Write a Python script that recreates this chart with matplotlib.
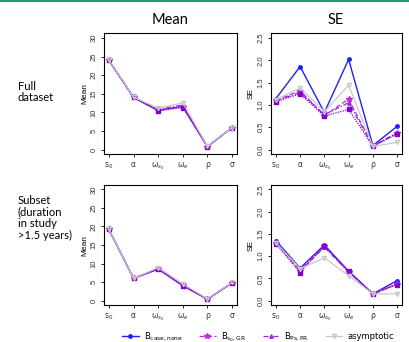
import matplotlib
matplotlib.use("Agg")
import matplotlib.pyplot as plt
from matplotlib.lines import Line2D

# parameters on the x axis
params = ["s$_0$", "α", "ω$_{s_0}$", "ω$_e$", "ρ", "σ"]

# full dataset - mean
full_mean_case = [24.0, 14.0, 10.5, 11.6, 0.8, 5.9]
full_mean_s0gr = [24.0, 14.0, 10.6, 11.5, 0.8, 5.9]
full_mean_pspr = [24.0, 14.0, 10.8, 12.0, 0.8, 5.9]
full_mean_s0pr = [24.0, 14.0, 10.4, 11.3, 0.8, 5.9]
full_mean_asym = [24.1, 14.1, 11.1, 12.6, 0.9, 5.9]

# full dataset - SE
full_se_case = [1.14, 1.86, 0.83, 2.02, 0.09, 0.52]
full_se_s0gr = [1.10, 1.32, 0.76, 1.13, 0.08, 0.36]
full_se_pspr = [1.09, 1.28, 0.78, 1.05, 0.08, 0.38]
full_se_s0pr = [1.07, 1.25, 0.75, 0.90, 0.07, 0.35]
full_se_asym = [1.12, 1.38, 0.85, 1.44, 0.07, 0.16]

# subset - mean
sub_mean_case = [19.2, 6.0, 8.6, 4.0, 0.4, 4.8]
sub_mean_s0gr = [19.2, 6.0, 8.5, 4.1, 0.4, 4.8]
sub_mean_pspr = [19.2, 6.0, 8.7, 4.2, 0.4, 4.8]
sub_mean_s0pr = [19.2, 6.0, 8.4, 4.0, 0.4, 4.8]
sub_mean_asym = [19.3, 6.0, 8.9, 4.5, 0.5, 4.9]

# subset - SE
sub_se_case = [1.35, 0.73, 1.25, 0.66, 0.15, 0.45]
sub_se_s0gr = [1.30, 0.66, 1.22, 0.65, 0.15, 0.37]
sub_se_pspr = [1.32, 0.70, 1.20, 0.64, 0.15, 0.38]
sub_se_s0pr = [1.28, 0.63, 1.23, 0.66, 0.15, 0.36]
sub_se_asym = [1.30, 0.72, 0.96, 0.56, 0.15, 0.15]

labels = [r"B$_{\rm case,none}$", r"B$_{\rm s_0,GR}$", r"B$_{\rm Ps,PR}$",
          r"B$_{\rm s_0,PR}$", "asymptotic"]
styles = [
    dict(color="#1f1fff", ls="-", marker="o", ms=2.5, lw=1.0),
    dict(color="#c228e6", ls=(0, (4, 2)), marker="*", ms=4, lw=0.9),
    dict(color="#9a28d6", ls=(0, (4, 1.5, 1, 1.5)), marker="^", ms=2.5, lw=0.9),
    dict(color="#8a00c8", ls=(0, (1, 1)), marker="s", ms=2.5, lw=0.9),
    dict(color="#c8c8c8", ls="-", marker="v", ms=3, lw=0.9, mfc="none"),
]

panels = [
    ([104, 237, 33.5, 154], [full_mean_case, full_mean_s0gr, full_mean_pspr, full_mean_s0pr, full_mean_asym], "Mean"),
    ([271, 402, 33.5, 154], [full_se_case, full_se_s0gr, full_se_pspr, full_se_s0pr, full_se_asym], "SE"),
    ([104, 237, 185, 305], [sub_mean_case, sub_mean_s0gr, sub_mean_pspr, sub_mean_s0pr, sub_mean_asym], "Mean"),
    ([271, 402, 185, 305], [sub_se_case, sub_se_s0gr, sub_se_pspr, sub_se_s0pr, sub_se_asym], "SE"),
]

W, H = 410, 342
fig = plt.figure(figsize=(W / 100, H / 100), dpi=100)
x = list(range(1, 7))

for (l, r, t, b), series, kind in panels:
    ax = fig.add_axes([l / W, 1 - b / H, (r - l) / W, (b - t) / H])
    for vals, st in zip(series, styles):
        ax.plot(x, vals, **st)
    ax.set_xlim(0.8, 6.2)
    if kind == "Mean":
        ax.set_ylim(-1.2, 31.2)
        ax.set_yticks([0, 5, 10, 15, 20, 25, 30])
    else:
        ax.set_ylim(-0.1, 2.6)
        ax.set_yticks([0.0, 0.5, 1.0, 1.5, 2.0, 2.5])
        ax.set_yticklabels(["0.0", "0.5", "1.0", "1.5", "2.0", "2.5"])
    ax.set_xticks(x)
    ax.set_xticklabels(params, fontsize=6)
    ax.set_ylabel(kind, fontsize=6, labelpad=2, family="Liberation Sans")
    ax.tick_params(axis="both", length=2.5, width=0.6, pad=2, labelsize=5.5,
                   labelcolor="#333333")
    for lab in ax.get_yticklabels():
        lab.set_rotation(90)
        lab.set_va("center")
        lab.set_family("Liberation Sans")
    for s in ax.spines.values():
        s.set_linewidth(0.8)

# column titles
fig.text(170 / W, 1 - 20 / H, "Mean", ha="center", va="center", fontsize=10.5, family="Lato")
fig.text(336 / W, 1 - 20 / H, "SE", ha="center", va="center", fontsize=10.5, family="Lato")

# row labels
fig.text(18 / W, 1 - 92 / H, "Full\ndataset", ha="left", va="center", fontsize=8,
         family="Lato", linespacing=1.1)
fig.text(18 / W, 1 - 218 / H, "Subset\n(duration\nin study\n>1.5 years)", ha="left",
         va="center", fontsize=8, family="Lato", linespacing=1.1)

# green line at the top
fig.add_artist(Line2D([0, 1], [1 - 1.2 / H, 1 - 1.2 / H], color="#1e9a6e", lw=1.5))

# legend, second row is cut by the figure edge
blank = Line2D([], [], ls="none")
h = [Line2D([], [], **st) for st in styles]
handles = [h[0], blank, h[1], h[3], h[2], blank, h[4], blank]
leg_labels = [labels[0], "", labels[1], labels[3], labels[2], "", labels[4], ""]
fig.legend(handles, leg_labels, ncol=4, loc="upper center",
           bbox_to_anchor=(258 / W, 1 - 326 / H), frameon=False, fontsize=6,
           handlelength=2.0, columnspacing=2.0, borderpad=0, handletextpad=0.6,
           labelspacing=0.4)

fig.savefig("out.png", dpi=100)
